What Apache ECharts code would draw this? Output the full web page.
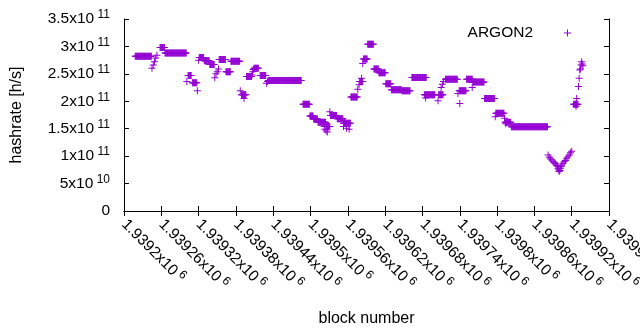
<!DOCTYPE html>
<html>
<head>
	<title>argon2 hashrate</title>
	<meta charset="utf-8">
	<script src="https://cdn.jsdelivr.net/npm/echarts@6/dist/echarts.min.js"></script>
	<style type="text/css">
		body{
			margin: 0;
			background: #fff;
		}
		#main{
			width: 640px;
			height: 330px;
		}
	</style>
</head>
<body>
	<div id="main"></div>
	<script type="text/javascript">
	// flat stretches: every block from runFrom to runTo sits at runVal
	var runFrom = [1939218, 1939258, 1939266, 1939303, 1939310, 1939321, 1939329, 1939338, 1939353, 1939364,
		1939372, 1939389, 1939397, 1939409, 1939419, 1939432, 1939488, 1939499, 1939505, 1939512,
		1939525, 1939532, 1939543, 1939553, 1939565, 1939579, 1939585, 1939592, 1939602, 1939610,
		1939621, 1939630, 1939647, 1939663, 1939683, 1939706, 1939717, 1939739, 1939751, 1939761,
		1939780, 1939798, 1939813, 1939823, 1939923];
	var runTo = [1939244, 1939265, 1939300, 1939308, 1939317, 1939328, 1939337, 1939345, 1939363, 1939371,
		1939386, 1939396, 1939405, 1939416, 1939428, 1939485, 1939498, 1939504, 1939511, 1939524,
		1939531, 1939542, 1939552, 1939564, 1939575, 1939584, 1939591, 1939601, 1939609, 1939620,
		1939629, 1939646, 1939660, 1939686, 1939700, 1939713, 1939736, 1939750, 1939760, 1939779,
		1939796, 1939811, 1939822, 1939881, 1939930];
	var runVal = [282e9, 298e9, 288e9, 247e9, 234e9, 280e9, 274e9, 267e9, 276e9, 254e9,
		273e9, 212e9, 245e9, 260e9, 247e9, 238e9, 194.5e9, 173e9, 167.5e9, 162e9,
		154e9, 174e9, 168e9, 160e9, 208e9, 236e9, 277e9, 304e9, 259e9, 252e9,
		232e9, 221e9, 219e9, 243.5e9, 212e9, 212e9, 240e9, 219e9, 240e9, 235e9,
		205e9, 178e9, 162e9, 153.7e9, 194.5e9];

	// single scattered blocks
	var dotBlock = [1939245, 1939247, 1939249, 1939251, 1939253, 1939301, 1939318, 1939320, 1939346, 1939348,
		1939350, 1939352, 1939387, 1939393, 1939406, 1939407, 1939408, 1939429, 1939431, 1939522,
		1939523, 1939525, 1939527, 1939531, 1939553, 1939555, 1939558, 1939562, 1939576, 1939578,
		1939582, 1939584, 1939685, 1939705, 1939710, 1939712, 1939714, 1939737, 1939740, 1939760,
		1939797, 1939812, 1939814,
		1939882, 1939884, 1939886, 1939888, 1939890, 1939892, 1939894, 1939896, 1939897, 1939898,
		1939899, 1939900, 1939901, 1939902, 1939903, 1939904, 1939906, 1939908, 1939910, 1939912,
		1939914, 1939916, 1939918, 1939920,
		1939927, 1939928, 1939931, 1939932, 1939933, 1939934, 1939935, 1939936, 1939937, 1939938];
	var dotVal = [260e9, 266e9, 272e9, 279e9, 284e9, 236e9, 219e9, 275e9, 243e9, 250e9,
		254e9, 259e9, 219e9, 205e9, 248e9, 254e9, 258e9, 233e9, 236e9, 154e9,
		149e9, 146e9, 144e9, 181e9, 154e9, 163e9, 151e9, 149e9, 222e9, 230e9,
		242e9, 269e9, 206e9, 201e9, 225e9, 231e9, 236e9, 214e9, 196e9, 225e9,
		172e9, 169e9, 159e9,
		102e9, 98e9, 95e9, 93e9, 90e9, 88e9, 86e9, 83e9, 82e9, 78e9,
		75e9, 72e9, 74e9, 78e9, 81e9, 84e9, 87e9, 90e9, 92e9, 96e9,
		99e9, 102e9, 106e9, 109e9,
		191e9, 205e9, 227e9, 242e9, 257e9, 259e9, 266e9, 272e9, 268e9, 265e9];

	var xTicks = {min: 1939200, max: 1939980, step: 60};
	var yTicks = {min: 0, max: 3.5e11, step: 5e10};

	var points = [];
	for (var i = 0; i < runFrom.length; i++) {
		for (var b = runFrom[i]; b <= runTo[i]; b++) {
			points.push([b, runVal[i]]);
		}
	}
	for (var j = 0; j < dotBlock.length; j++) {
		points.push([dotBlock[j], dotVal[j]]);
	}

	var FONT = '"Liberation Sans", Arial, sans-serif';
	var PLUS = 'path://M3,0h1v3h3v1h-3v3h-1v-3h-3v-1h3z';

	function sup(mant, exp) {
		return '{b|' + mant + 'x10} {s|' + exp + '}';
	}
	var rich = {
		b: {fontSize: 15.5, fontFamily: FONT, color: '#000'},
		s: {fontSize: 12, fontFamily: FONT, color: '#000', padding: [0, 0, 8, 0]}
	};

	var boxLine = {show: true, lineStyle: {color: '#000', width: 1}};
	var inTick = {show: true, inside: true, length: 5, lineStyle: {color: '#000'}};

	var myChart = echarts.init(document.getElementById('main'), null, {renderer: 'canvas'});
	var option = {
		animation: false,
		backgroundColor: '#fff',
		textStyle: {fontFamily: FONT},
		grid: {left: 124, right: 31, top: 19, bottom: 119, containLabel: false, outerBoundsMode: 'none'},
		legend: {
			data: ['ARGON2'],
			right: 69,
			top: 25,
			padding: 0,
			align: 'right',
			icon: PLUS,
			itemWidth: 7,
			itemHeight: 7,
			selectedMode: false,
			textStyle: {fontSize: 15.5, fontFamily: FONT, color: '#000', padding: [0, 26, 0, 0]}
		},
		xAxis: [{
			type: 'value',
			min: xTicks.min,
			max: xTicks.max,
			interval: xTicks.step,
			name: 'block number',
			nameLocation: 'middle',
			nameGap: 100,
			nameTextStyle: {fontSize: 16, fontFamily: FONT, color: '#000'},
			axisLine: boxLine,
			axisTick: inTick,
			splitLine: {show: false},
			axisLabel: {
				rotate: -45,
				margin: 11,
				showMaxLabel: true,
				formatter: function (v) {
					return sup(parseFloat((v / 1e6).toFixed(5)), 6);
				},
				rich: rich
			}
		}, {
			type: 'value',
			position: 'top',
			min: xTicks.min,
			max: xTicks.max,
			interval: xTicks.step,
			axisLine: boxLine,
			axisTick: inTick,
			axisLabel: {show: false},
			splitLine: {show: false}
		}],
		yAxis: [{
			type: 'value',
			min: yTicks.min,
			max: yTicks.max,
			interval: yTicks.step,
			name: 'hashrate [h/s]',
			nameLocation: 'middle',
			nameRotate: 90,
			nameGap: 99,
			nameTextStyle: {fontSize: 16, fontFamily: FONT, color: '#000'},
			axisLine: boxLine,
			axisTick: inTick,
			splitLine: {show: false},
			axisLabel: {
				margin: 14,
				formatter: function (v) {
					if (v === 0) return '{b|0}';
					var e = v >= 1e11 ? 11 : 10;
					return sup(parseFloat((v / Math.pow(10, e)).toFixed(2)), e);
				},
				rich: rich
			}
		}, {
			type: 'value',
			position: 'right',
			min: yTicks.min,
			max: yTicks.max,
			interval: yTicks.step,
			axisLine: boxLine,
			axisTick: inTick,
			axisLabel: {show: false},
			splitLine: {show: false}
		}],
		series: [{
			name: 'ARGON2',
			type: 'scatter',
			symbol: PLUS,
			symbolSize: 7,
			large: false,
			itemStyle: {color: '#9400d3', opacity: 1},
			emphasis: {disabled: true},
			data: points
		}]
	};
	myChart.setOption(option);
	</script>
</body>
</html>
